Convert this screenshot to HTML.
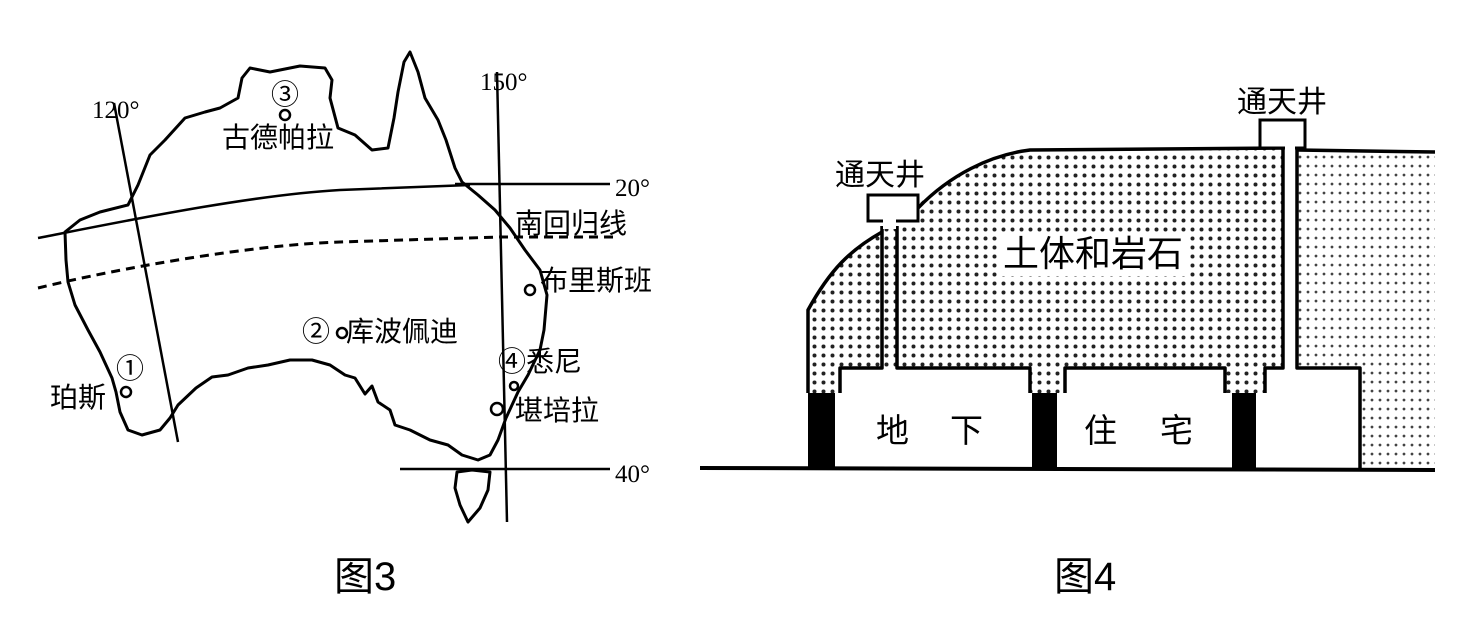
<!DOCTYPE html>
<html><head><meta charset="utf-8"><style>
html,body{margin:0;padding:0;background:#fff;}
svg{display:block;}
text{font-family:"Liberation Sans","Noto Sans CJK SC",sans-serif;fill:#000;}
.s{font-family:"Liberation Serif","Noto Serif CJK SC",serif;}
</style></head><body>
<svg width="1463" height="635" viewBox="0 0 1463 635" xmlns="http://www.w3.org/2000/svg">
<defs>
<pattern id="dots" width="9" height="9" patternUnits="userSpaceOnUse">
<circle cx="4.5" cy="4.5" r="2" fill="#222"/>
</pattern>
<pattern id="dots2" width="8" height="9" patternUnits="userSpaceOnUse">
<circle cx="4" cy="4" r="1.4" fill="#444"/>
</pattern>
</defs>

<!-- ===== Figure 3 : Australia ===== -->
<g fill="none" stroke="#000" stroke-width="3" stroke-linejoin="round">
<path d="M65,232 L80,220 L100,212 L128,205 L138,185 L150,155 L165,140 L185,118 L205,112 L220,108 L238,98 L242,78 L250,68 L270,72 L300,66 L325,68 L332,80 L330,98 L338,128 L355,135 L372,150 L388,148 L394,118 L398,92 L404,62 L410,52 L418,72 L425,98 L438,120 L446,140 L455,168 L462,182 L478,195 L495,210 L510,228 L525,250 L540,270 L547,295 L544,330 L540,350 L528,375 L518,392 L506,418 L498,440 L490,455 L478,460 L462,455 L448,445 L430,440 L410,430 L395,425 L390,410 L378,402 L372,386 L365,394 L355,378 L345,375 L330,365 L312,360 L290,360 L268,365 L248,368 L228,375 L212,377 L196,388 L178,405 L170,418 L160,430 L142,435 L128,430 L120,412 L116,392 L112,378 L100,352 L88,330 L75,305 L68,282 L66,260 Z"/>
<path d="M457,472 L472,470 L490,472 L488,490 L480,508 L468,522 L460,505 L455,488 Z"/>
</g>
<g stroke="#000" stroke-width="2.5" fill="none">
<line x1="114" y1="103" x2="178" y2="442"/>
<line x1="497" y1="72" x2="507" y2="522"/>
<line x1="455" y1="184" x2="610" y2="184"/>
<line x1="400" y1="469" x2="610" y2="469"/>
<path d="M38,238 C120,222 250,195 340,190 L470,185"/>
<path d="M38,288 C120,268 250,245 340,242 L500,237 L615,237" stroke-dasharray="9,6" stroke-width="3"/>
</g>
<g fill="#fff" stroke="#000" stroke-width="2.5">
<circle cx="285" cy="115" r="5"/>
<circle cx="530" cy="290" r="5"/>
<circle cx="342" cy="333" r="5"/>
<circle cx="126" cy="392" r="5"/>
<circle cx="514" cy="386" r="4"/>
<circle cx="497" cy="409" r="6"/>
</g>
<g font-size="25">
<text class="s" x="92" y="118">120°</text>
<text class="s" x="480" y="90">150°</text>
<text class="s" x="615" y="196">20°</text>
<text class="s" x="615" y="482">40°</text>
</g>
<g font-size="28">
<text x="271" y="104">③</text>
<text x="222" y="147">古德帕拉</text>
<text x="515" y="233">南回归线</text>
<text x="540" y="290">布里斯班</text>
<text x="302" y="341">②</text>
<text x="346" y="341">库波佩迪</text>
<text x="116" y="378">①</text>
<text x="50" y="407">珀斯</text>
<text x="498" y="371">④悉尼</text>
<text x="515" y="420">堪培拉</text>
</g>
<text x="334" y="590" font-size="40">图3</text>

<!-- ===== Figure 4 ===== -->
<rect x="1297" y="152" width="138" height="316" fill="url(#dots2)"/>
<rect x="1297" y="368" width="63" height="100" fill="#fff"/>
<path d="M808,393 L808,310 C830,270 850,250 880,235 L882,220 L918,220 L918,205 C950,175 990,155 1030,150 L1283,148 L1283,368 L1265,368 L1265,393 L1225,393 L1225,368 L1065,368 L1065,393 L1030,393 L1030,368 L840,368 L840,393 Z" fill="url(#dots)"/>
<rect x="998" y="232" width="190" height="44" fill="#fff"/>
<g fill="none" stroke="#000" stroke-width="3.5" stroke-linejoin="round">
<path d="M808,393 L808,310 C830,270 850,250 882,232"/>
<path d="M918,208 C950,175 990,155 1030,150 L1283,148"/>
<path d="M1297,150 L1435,152"/>
<path d="M882,226 L882,368 L840,368 L840,393"/>
<path d="M897,226 L897,368 L1030,368 L1030,393"/>
<path d="M1065,393 L1065,368 L1225,368 L1225,393"/>
<path d="M1265,393 L1265,368 L1283,368 L1283,148"/>
<path d="M1297,148 L1297,368 L1360,368 L1360,468"/>
</g>
<rect x="868" y="195" width="50" height="26" fill="#fff" stroke="#000" stroke-width="3"/>
<rect x="883" y="219" width="13" height="10" fill="#fff"/>
<rect x="1260" y="120" width="45" height="28" fill="#fff" stroke="#000" stroke-width="3"/>
<rect x="1285" y="146" width="10" height="6" fill="#fff"/>
<rect x="808" y="393" width="27" height="75" fill="#000"/>
<rect x="1032" y="393" width="25" height="75" fill="#000"/>
<rect x="1232" y="393" width="24" height="75" fill="#000"/>
<line x1="700" y1="468" x2="1435" y2="470" stroke="#000" stroke-width="4"/>
<g font-size="30">
<text x="835" y="185">通天井</text>
<text x="1237" y="112">通天井</text>
</g>
<text x="1003" y="266" font-size="36">土体和岩石</text>
<g font-size="33">
<text x="876" y="442">地</text>
<text x="950" y="442">下</text>
<text x="1084" y="442">住</text>
<text x="1160" y="442">宅</text>
</g>
<text x="1054" y="590" font-size="40">图4</text>
</svg>
</body></html>
